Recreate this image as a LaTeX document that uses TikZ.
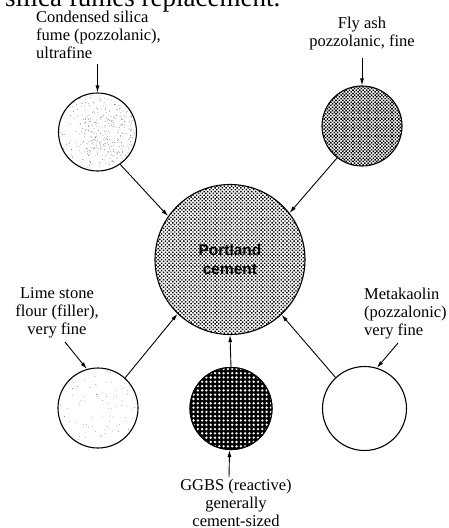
\documentclass[tikz,border=0pt]{standalone}
\usepackage{fontspec}
\setmainfont{Liberation Serif}
\newfontfamily\arialfont{Liberation Sans}
\usetikzlibrary{patterns.meta,arrows.meta}
\begin{document}
\begin{tikzpicture}[x=1pt,y=-1pt,
  ball/.style={circle, draw, line width=1.1pt, inner sep=0pt},
  lab/.style={font=\fontsize{16.5}{18}\selectfont, inner sep=0pt},
  arr/.style={-{Latex[length=7pt,width=4pt]}, line width=0.9pt},
  specks/.style n args={4}{path picture={%
    \pgfmathsetseed{#1}%
    \foreach \k in {1,...,#2}{%
      \pgfmathsetmacro\dx{#4+rand*#3}\pgfmathsetmacro\dy{rand*#3}%
      \fill[black!65] ([shift={(\dx,\dy)}]path picture bounding box.center) circle (0.36pt);
    }}},
]
\useasboundingbox (0,0) rectangle (448,528);

% cut-off heading line
\node[anchor=base west, font=\fontsize{27}{30}\selectfont, inner sep=0pt] (head) at (5,6.5) {silica fumes replacement.};

% particles
\node[ball, minimum size=150pt,
      pattern={Dots[distance=2.6pt,angle=45,radius=1.0pt]},
      font=\arialfont\bfseries\fontsize{15.5}{19}\selectfont, align=center]
      (pc) at (230,259.5) {Portland\\cement};

\node[ball, minimum size=78pt,
      postaction={specks={11}{300}{38}{0}},
      postaction={specks={23}{160}{24}{12}}] (silica) at (97.5,132) {};
\node[ball, minimum size=80pt,
      pattern={Dots[distance=2.4pt,angle=45,radius=1.1pt]}] (flyash) at (362,126) {};
\node[ball, minimum size=80pt,
      postaction={specks={5}{90}{38}{0}}] (lime) at (98,408) {};
\node[ball, minimum size=82pt, fill=black,
      postaction={pattern={Dots[distance=4.3pt,radius=1.3pt]}, pattern color=white},
      postaction={draw, line width=1.1pt}] (ggbs) at (231,408.5) {};
\node[ball, minimum size=84pt] (meta) at (364.5,408.5) {};

% labels
\node[lab, anchor=north west, align=left] (silicalab) at (36,10.6)
  {Condensed silica\\fume (pozzolanic),\\ultrafine};
\node[lab, anchor=north, align=center] (flyashlab) at (362,16.7)
  {Fly ash\\pozzolanic, fine};
\node[lab, anchor=north, align=center] (limelab) at (57,287.7)
  {Lime stone\\flour (filler),\\very fine};
\node[lab, anchor=north west, align=left] (metalab) at (364,287.7)
  {Metakaolin\\(pozzalonic)\\very fine};
\node[lab, anchor=north, align=center] (ggbslab) at (236,478.7)
  {GGBS (reactive)\\generally\\cement-sized};

% label arrows
\coordinate (silicain) at (97.5,64);
\coordinate (flyashin) at (362,58);
\coordinate (limein) at (65,342);
\coordinate (metain) at (398,343);
\coordinate (ggbsin) at (229,477);
\draw[arr] (silicain) -- (silica.north);
\draw[arr] (flyashin) -- (flyash.north);
\draw[arr] (limein) -- (lime.106);
\draw[arr] (metain) -- (meta.73);
\draw[arr] (ggbsin) -- (ggbs.-92);

% connectors to Portland cement
\draw[arr] (silica.-55) -- (pc.145);
\draw[arr] (flyash.-128) -- (pc.38);
\draw[arr] (lime.48) -- (pc.226);
\draw[arr] (ggbs.north) -- (pc.-90);
\draw[arr] (meta.133) -- (pc.-47.5);
\end{tikzpicture}
\end{document}
